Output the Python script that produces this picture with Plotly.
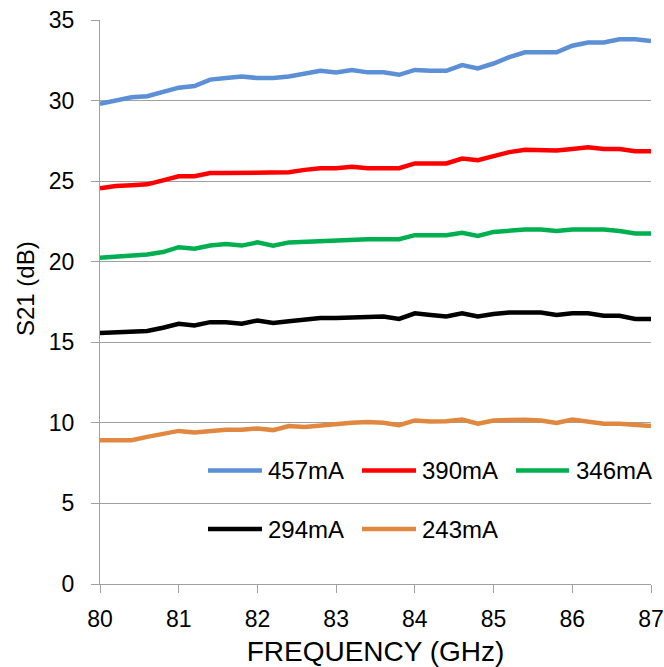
import plotly.graph_objects as go

freq = [80.0, 80.2, 80.4, 80.6, 80.8, 81.0, 81.2, 81.4, 81.6, 81.8, 82.0, 82.2,
        82.4, 82.6, 82.8, 83.0, 83.2, 83.4, 83.6, 83.8, 84.0, 84.2, 84.4, 84.6,
        84.8, 85.0, 85.2, 85.4, 85.6, 85.8, 86.0, 86.2, 86.4, 86.6, 86.8, 87.0]

s21_457mA = [29.8, 30.0, 30.2, 30.27, 30.5, 30.8, 30.9, 31.3, 31.4, 31.5, 31.4, 31.4,
             31.5, 31.7, 31.85, 31.75, 31.9, 31.75, 31.75, 31.6, 31.9, 31.85, 31.85, 32.2,
             32.0, 32.3, 32.7, 33.0, 33.0, 33.0, 33.4, 33.6, 33.6, 33.8, 33.8, 33.7]
s21_390mA = [24.55, 24.7, 24.75, 24.8, 25.05, 25.3, 25.3, 25.5, 25.5, 25.5, 25.5, 25.5,
             25.55, 25.7, 25.8, 25.8, 25.9, 25.8, 25.8, 25.8, 26.1, 26.1, 26.1, 26.4,
             26.3, 26.55, 26.8, 26.95, 26.9, 26.9, 27.0, 27.1, 27.0, 27.0, 26.85, 26.85]
s21_346mA = [20.25, 20.3, 20.35, 20.45, 20.6, 20.9, 20.8, 21.0, 21.1, 21.0, 21.2, 21.0,
             21.2, 21.25, 21.3, 21.35, 21.4, 21.4, 21.4, 21.4, 21.65, 21.65, 21.65, 21.8,
             21.6, 21.85, 21.95, 22.0, 22.0, 21.9, 22.0, 22.0, 22.0, 21.9, 21.75, 21.75]
s21_294mA = [15.58, 15.6, 15.65, 15.7, 15.9, 16.15, 16.05, 16.25, 16.25, 16.15, 16.35, 16.2,
             16.3, 16.4, 16.5, 16.5, 16.55, 16.55, 16.6, 16.45, 16.8, 16.7, 16.6, 16.8,
             16.6, 16.75, 16.85, 16.85, 16.85, 16.7, 16.8, 16.8, 16.65, 16.65, 16.45, 16.45]
s21_243mA = [8.92, 8.92, 8.92, 9.13, 9.3, 9.5, 9.4, 9.48, 9.57, 9.57, 9.65, 9.55,
             9.8, 9.75, 9.85, 9.95, 10.0, 10.05, 10.0, 9.85, 10.15, 10.08, 10.1, 10.2,
             9.95, 10.15, 10.2, 10.2, 10.15, 10.0, 10.2, 10.1, 9.95, 9.95, 9.9, 9.8]

series_labels = ["457mA", "390mA", "346mA", "294mA", "243mA"]
series_values = [s21_457mA, s21_390mA, s21_346mA, s21_294mA, s21_243mA]
x_ticks = [80, 81, 82, 83, 84, 85, 86, 87]
y_ticks = [0, 5, 10, 15, 20, 25, 30, 35]

colors = ["#5b8fd6", "#ff0000", "#00b050", "#000000", "#e0883f"]
FONT = "Liberation Sans, Arial, sans-serif"
GRID = "#a0a0a0"

W, H = 664, 667
ML, MR, MT, MB = 100, 13, 20, 83
PW, PH = W - ML - MR, H - MT - MB


def px_to_paper(px, py):
    return (px - ML) / PW, (H - MB - py) / PH


fig = go.Figure()
for lab, vals, col in zip(series_labels, series_values, colors):
    fig.add_trace(go.Scatter(x=freq, y=vals, mode="lines", name=lab,
                             line=dict(color=col, width=4.5), showlegend=False))

# legend background (covers gridlines)
x0, y0 = px_to_paper(194, 445)
x1, y1 = px_to_paper(W - MR, 560)
fig.add_shape(type="rect", xref="paper", yref="paper", x0=x0, x1=x1, y0=y1, y1=y0,
              fillcolor="white", line=dict(width=0), layer="between")

# manual legend entries: (line start px, line end px, text px, row y px)
entries = [(208, 262, 266, 470.5), (362, 416, 420, 470.5), (516, 569, 574, 470.5),
           (208, 262, 266, 529), (362, 416, 420, 529)]
for (lx0, lx1, tx, ry), lab, col in zip(entries, series_labels, colors):
    a0, b0 = px_to_paper(lx0, ry)
    a1, _ = px_to_paper(lx1, ry)
    fig.add_shape(type="line", xref="paper", yref="paper", x0=a0, x1=a1, y0=b0, y1=b0,
                  line=dict(color=col, width=4.5), layer="above")
    ta, tb = px_to_paper(tx, ry)
    fig.add_annotation(xref="paper", yref="paper", x=ta, y=tb, text=lab, showarrow=False,
                       xanchor="left", yanchor="middle",
                       font=dict(family=FONT, size=24, color="#000000"))

# y-axis title
ya, yb = px_to_paper(25, 289)
fig.add_annotation(xref="paper", yref="paper", x=ya, y=yb, text="S21 (dB)", showarrow=False,
                   textangle=-90, xanchor="center", yanchor="middle",
                   font=dict(family=FONT, size=24, color="#000000"))

fig.update_layout(
    width=W, height=H,
    margin=dict(l=ML, r=MR, t=MT, b=MB, autoexpand=False),
    paper_bgcolor="white", plot_bgcolor="white",
    font=dict(family=FONT, color="#000000"),
    showlegend=False,
)
fig.update_xaxes(range=[80, 87], tickvals=x_ticks, showgrid=False, automargin=False,
                 showline=True, linecolor=GRID, linewidth=1,
                 ticks="outside", ticklen=8, tickcolor=GRID, tickwidth=1,
                 tickfont=dict(family=FONT, size=23), ticklabelstandoff=6,
                 title=dict(text="FREQUENCY (GHz)", font=dict(family=FONT, size=28), standoff=12),
                 zeroline=False)
fig.update_yaxes(range=[0, 35], tickvals=y_ticks, showgrid=True, gridcolor=GRID, gridwidth=1,
                 automargin=False,
                 showline=True, linecolor=GRID, linewidth=1,
                 ticks="outside", ticklen=8, tickcolor=GRID, tickwidth=1,
                 tickfont=dict(family=FONT, size=23), ticklabelstandoff=12,
                 zeroline=False)

fig.write_html("out.html")
